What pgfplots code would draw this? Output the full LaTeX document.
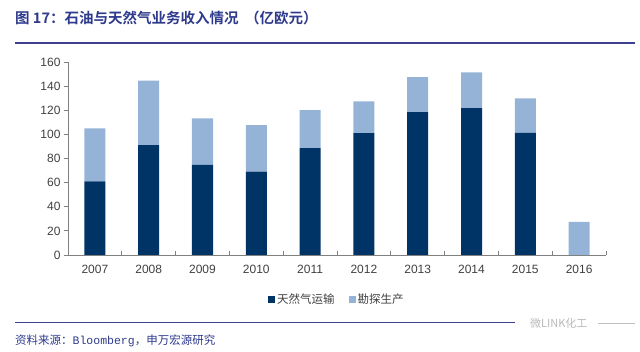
\documentclass[border=0pt]{standalone}
\usepackage{pgfplots}
\pgfplotsset{compat=1.18}
\usepackage{fontspec}
\setmainfont{Liberation Sans}
\newfontfamily\cjk{Noto Sans CJK SC}
\newfontfamily\cjkb{Noto Sans CJK SC Bold}
\newfontfamily\mono{Liberation Mono}
\definecolor{navy}{HTML}{003366}
\definecolor{lightb}{HTML}{95B3D7}
\definecolor{titleblue}{HTML}{2E3A8C}
\definecolor{rule}{HTML}{3F3F8F}
\definecolor{ticktxt}{HTML}{404040}
\begin{document}
\begin{tikzpicture}[x=1pt,y=1pt]
\useasboundingbox (0,0) rectangle (640,-352);
\node[anchor=base west, inner sep=0, text=titleblue, font=\fontsize{14.5}{16}\selectfont\cjkb] at (15,-24) {图 17：石油与天然气业务收入情况 \ （亿欧元）};
\draw[rule, line width=1.3pt] (15,-43) -- (635,-43);
\draw[rule, line width=1pt] (15,-323) -- (515,-323);
\draw[gray!50, line width=0.8pt] (598,-323) -- (635,-323);
\node[anchor=west, inner sep=0, text=gray!55, font=\fontsize{11}{12}\selectfont\cjk] at (530,-323) {微LINK化工};
\node[anchor=base west, inner sep=0, text=titleblue, font=\fontsize{11.5}{13}\selectfont\cjk] at (15,-345) {资料来源：{\mono Bloomberg}，申万宏源研究};
\begin{axis}[
  at={(68pt,-255pt)}, anchor=south west,
  scale only axis, width=538pt, height=193pt,
  ymin=0, ymax=160, ytick={0,20,...,160},
  xmin=-0.5, xmax=9.5,
  xtick={0,...,9},
  xticklabels={2007,2008,2009,2010,2011,2012,2013,2014,2015,2016},
  minor xtick={-0.5,0.5,...,9.5},
  major x tick style={draw=none},
  minor x tick style={gray, line width=0.8pt},
  minor tick length=4pt,
  axis x line*=bottom, axis y line*=left,
  axis line style={gray, line width=0.8pt},
  y tick style={gray, line width=0.8pt},
  major tick length=4pt,
  tick align=outside,
  xtick align=inside,
  ticklabel style={text=ticktxt, font=\fontsize{12}{14}\selectfont},
  /pgf/number format/assume math mode=true,
  xticklabel style={yshift=-7pt},
  ybar stacked, bar width=21pt,
  legend style={at={(0.5,-0.18)}, anchor=north, draw=none, legend columns=2,
    font=\fontsize{11.5}{13}\selectfont\cjk, text=ticktxt, fill=none,
    /tikz/every even column/.append style={column sep=12pt}},
  legend image code/.code={\fill[#1] (0pt,-3.5pt) rectangle (7pt,3.5pt);},
  clip=false,
]
\addplot[fill=navy, draw=none] coordinates {(0,61) (1,91) (2,74.7) (3,69.2) (4,88.6) (5,101) (6,118.5) (7,121.8) (8,101.3) (9,0)};
\addplot[fill=lightb, draw=none] coordinates {(0,44) (1,53.5) (2,38.5) (3,38.5) (4,31.5) (5,26.3) (6,29) (7,29.6) (8,28.5) (9,27.4)};
\legend{天然气运输,勘探生产}
\end{axis}
\end{tikzpicture}
\end{document}
